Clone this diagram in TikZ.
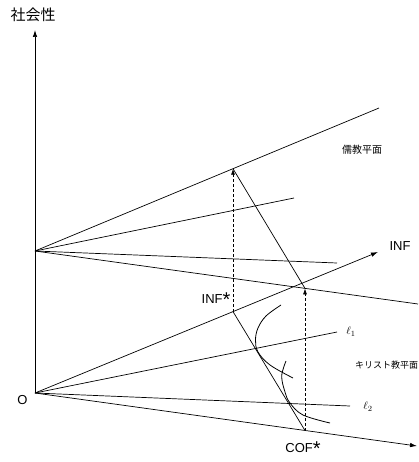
\documentclass[tikz,border=0pt]{standalone}
\usepackage{fontspec}
\setmainfont{Liberation Sans}
\newfontfamily\jpfont{Noto Sans CJK JP}
\usetikzlibrary{arrows.meta}
\newcommand{\bigast}{\raisebox{-3.5pt}{\fontsize{20}{20}\selectfont *}}

\begin{document}
\begin{tikzpicture}[
  x=1pt, y=-1pt,
  ln/.style={draw=black, line width=0.7pt},
  ax/.style={ln, -{Latex[length=7pt, width=4.5pt]}},
  proj/.style={ln, dash pattern=on 3pt off 2pt, -{Latex[length=6pt, width=4pt]}},
  crv/.style={ln, line width=0.8pt},
  lab/.style={inner sep=0pt, font=\fontsize{13}{15}\selectfont},
  jlab/.style={inner sep=0pt, font=\jpfont\fontsize{10}{12}\selectfont},
]
\useasboundingbox (0,0) rectangle (418,462);
% ---- origins ----
\coordinate (O) at (35,393);
\coordinate (P) at (35,251);
% ---- axes ----
\coordinate (ytip) at (35,30);
\coordinate (inftip) at (378,252);
\coordinate (xtip) at (417,446);
\draw[ax] (O) -- (ytip);
\draw[ax] (O) -- (inftip);
\draw[ax] (O) -- (xtip);
% ---- upper plane (rays from P) ----
\coordinate (u1) at (379,108);
\coordinate (u2) at (294,198);
\coordinate (u3) at (337,263);
\coordinate (u4) at (418,304);
\foreach \e in {u1,u2,u3,u4} \draw[ln] (P) -- (\e);
% ---- lower plane (rays from O) ----
\coordinate (l1) at (337,332);
\coordinate (l2) at (350,406);
\draw[ln] (O) -- (l1);
\draw[ln] (O) -- (l2);
% ---- key points ----
\coordinate (infs) at (233,311.6);
\coordinate (cofs) at (305,430.5);
\coordinate (A) at (233,168.7);
\coordinate (B) at (305,288.4);
\draw[proj] (infs) -- (A);
\draw[proj] (cofs) -- (B);
\draw[ln] (A) -- (B);
\draw[ln] (infs) -- (cofs);
% ---- indifference curves ----
\draw[crv] plot[smooth, tension=0.6] coordinates {(281,305) (266,316) (258,328) (255.5,340) (258,352) (270,365) (293,378)};
\draw[crv] plot[smooth, tension=0.6] coordinates {(286,361) (281.7,376) (285,392) (290,403) (303,415) (330,423)};
% ---- labels ----
\node[jlab, font=\jpfont\fontsize{15}{17}\selectfont] (ylab) at (33,15) {社会性};
\node[lab] (olab) at (22.5,400) {O};
\node[lab] (inflab) at (400,246) {INF};
\node[lab] (infslab) at (216,300) {INF\bigast};
\node[lab] (cofslab) at (303,449) {COF\bigast};
\node[jlab] (rukyo) at (362,150) {儒教平面};
\node[jlab, font=\jpfont\fontsize{9}{11}\selectfont] (kiri) at (386.5,365) {キリスト教平面};
\node[lab, font=\fontsize{11}{13}\selectfont] (ell1) at (351,332) {$\ell_1$};
\node[lab, font=\fontsize{11}{13}\selectfont] (ell2) at (368,407) {$\ell_2$};
\end{tikzpicture}
\end{document}
